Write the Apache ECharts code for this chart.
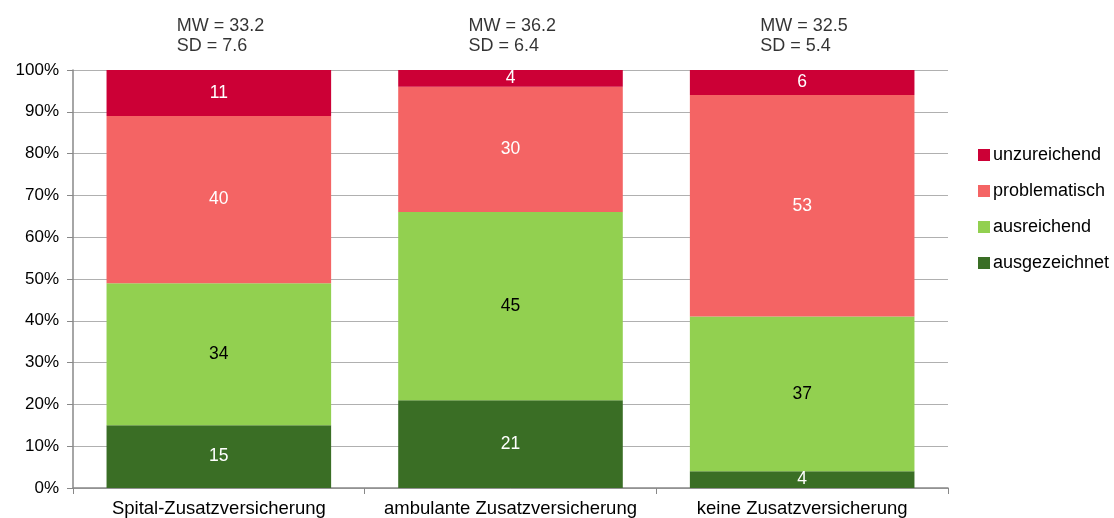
<!DOCTYPE html>
<html><head><meta charset="utf-8">
<script src="https://cdn.jsdelivr.net/npm/echarts@6/dist/echarts.min.js"></script>
<style>html,body{margin:0;padding:0;background:#fff}#c{width:1114px;height:518px}</style>
</head><body><div id="c"></div>
<script>
const categories = ['Spital-Zusatzversicherung', 'ambulante Zusatzversicherung', 'keine Zusatzversicherung'];
const ausgezeichnet = [15, 21, 4];
const ausreichend = [34, 45, 37];
const problematisch = [40, 30, 53];
const unzureichend = [11, 4, 6];
const mw = ['33.2', '36.2', '32.5'];
const sd = ['7.6', '6.4', '5.4'];
const yTicks = [0, 10, 20, 30, 40, 50, 60, 70, 80, 90, 100];

const FONT = '"Liberation Sans", Arial, sans-serif';
const chart = echarts.init(document.getElementById('c'), null, {renderer: 'canvas'});

function barSeries(name, data, color, labelColor) {
  return {
    name, type: 'bar', stack: 'total', data, barWidth: '77%',
    itemStyle: {color},
    label: {show: true, position: 'inside', color: labelColor, fontSize: 17.5, fontFamily: FONT},
    emphasis: {disabled: true}
  };
}

chart.setOption({
  animation: false,
  textStyle: {fontFamily: FONT},
  grid: {left: 73, right: 166, top: 70, bottom: 30, containLabel: false},
  legend: {
    orient: 'vertical', left: 973, top: 141,
    data: ['unzureichend', 'problematisch', 'ausreichend', 'ausgezeichnet'],
    icon: 'rect', itemWidth: 12, itemHeight: 12, itemGap: 18,
    textStyle: {fontSize: 18, color: '#000', fontFamily: FONT, padding: [0, 0, 0, -2]}
  },
  xAxis: {
    type: 'category', data: categories,
    axisLine: {lineStyle: {color: '#888', width: 1.5}},
    axisTick: {show: true, interval: 0, length: 6, lineStyle: {color: '#888'}},
    axisLabel: {color: '#000', fontSize: 18.5, margin: 11, interval: 0, fontFamily: FONT}
  },
  yAxis: {
    type: 'value', min: 0, max: 100, interval: 10,
    axisLine: {show: true, lineStyle: {color: '#888', width: 1.5}},
    axisTick: {show: true, length: 6, lineStyle: {color: '#888'}},
    splitLine: {lineStyle: {color: '#b0b0b0'}},
    axisLabel: {color: '#000', fontSize: 17, margin: 14, fontFamily: FONT,
      formatter: v => yTicks.includes(v) ? v + '%' : ''}
  },
  series: [
    barSeries('ausgezeichnet', ausgezeichnet, '#3A6E25', '#fff'),
    barSeries('ausreichend', ausreichend, '#92D050', '#000'),
    barSeries('problematisch', problematisch, '#F46464', '#fff'),
    barSeries('unzureichend', unzureichend, '#CC0036', '#fff'),
    {
      name: 'stats', type: 'scatter', symbolSize: 0, silent: true,
      data: [100, 100, 100],
      label: {
        show: true, position: 'top', distance: 14,
        formatter: p => '{a|MW = ' + mw[p.dataIndex] + '}\n{a|SD = ' + sd[p.dataIndex] + '}',
        rich: {a: {width: 84, align: 'left', fontSize: 18, color: '#000', lineHeight: 20, fontFamily: FONT}}
      }
    }
  ]
});
</script></body></html>
